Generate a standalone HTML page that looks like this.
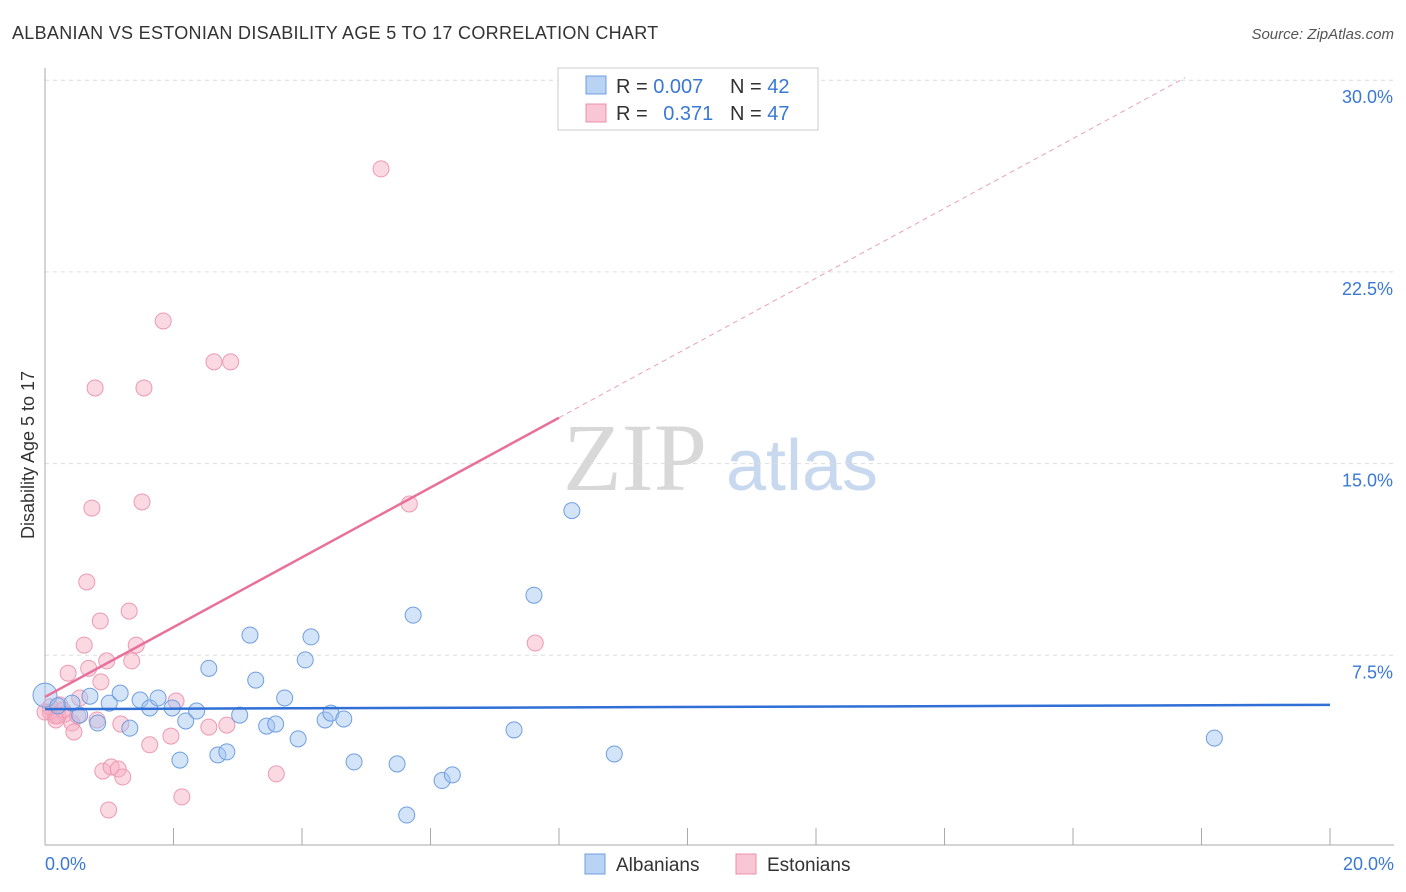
<!DOCTYPE html>
<html><head><meta charset="utf-8">
<style>
body{margin:0;background:#fff;font-family:"Liberation Sans",sans-serif;}
svg{display:block}
</style></head>
<body>
<svg id="chart" width="1406" height="892">
<text x="12" y="39" font-size="18" letter-spacing="0.3" fill="#333">ALBANIAN VS ESTONIAN DISABILITY AGE 5 TO 17 CORRELATION CHART</text>
<text x="1394" y="39" font-size="15" fill="#555" font-style="italic" text-anchor="end">Source: ZipAtlas.com</text>
<text x="34" y="455" font-size="18" fill="#333" text-anchor="middle" transform="rotate(-90 34 455)">Disability Age 5 to 17</text>
<text x="635" y="490" font-size="96" fill="#d8d8d8" font-family="Liberation Serif" text-anchor="middle">ZIP</text>
<text x="802" y="490" font-size="72" fill="#c8d8ef" text-anchor="middle">atlas</text>
<g id="grid"></g>
<g id="axes"></g>
<g id="marks"></g>
<g id="legend">
<rect x="558" y="68" width="260" height="62" fill="#fff" stroke="#ccc"/>
<rect x="586" y="76" width="20" height="18" fill="#b9d3f5" stroke="#6f9ee0"/>
<rect x="586" y="104" width="20" height="18" fill="#f9c6d5" stroke="#ec8fab"/>
<text x="616" y="93" font-size="20" fill="#333">R = <tspan fill="#3a78d4">0.007</tspan></text>
<text x="730" y="93" font-size="20" fill="#333">N = <tspan fill="#3a78d4">42</tspan></text>
<text x="616" y="120" font-size="20" fill="#333">R = <tspan fill="#3a78d4" dx="10">0.371</tspan></text>
<text x="730" y="120" font-size="20" fill="#333">N = <tspan fill="#3a78d4">47</tspan></text>
</g>
<g>
<rect x="585" y="854" width="20" height="20" fill="#b9d3f5" stroke="#6f9ee0"/>
<text x="616" y="871" font-size="19" fill="#333">Albanians</text>
<rect x="736" y="854" width="20" height="20" fill="#f9c6d5" stroke="#ec8fab"/>
<text x="767" y="871" font-size="19" fill="#333">Estonians</text>
</g>
</svg>
<script>
const yTicks=[7.5,15,22.5,30];
const yTickLabels=["7.5%","15.0%","22.5%","30.0%"];
const xTicks=[0,2,4,6,8,10,12,14,16,18,20];
const albX=[0,0.2,0.42,0.54,0.7,0.82,1.0,1.17,1.32,1.48,1.63,1.76,1.98,2.1,2.19,2.36,2.55,2.69,2.83,3.03,3.19,3.28,3.45,3.59,3.73,3.94,4.05,4.14,4.36,4.45,4.65,4.81,5.48,5.63,5.73,6.18,6.34,7.3,7.61,8.2,8.86,18.2];
const albY=[5.94,5.52,5.63,5.16,5.9,4.85,5.63,6.02,4.65,5.75,5.44,5.83,5.44,3.4,4.93,5.32,6.99,3.6,3.72,5.16,8.29,6.53,4.73,4.81,5.83,4.23,7.32,8.22,4.97,5.24,5.01,3.33,3.25,1.25,9.07,2.6,2.82,4.58,9.85,13.16,3.64,4.26];
const estX=[0.08,0.16,0.23,0.31,0.36,0.42,0.45,0.51,0.54,0.61,0.65,0.68,0.73,0.78,0.81,0.86,0.87,0.9,0.96,0.99,1.03,1.14,1.18,1.21,1.31,1.35,1.42,1.51,1.54,1.63,1.84,1.96,2.04,2.13,2.55,2.63,2.83,2.89,3.6,5.23,5.67,7.63,0.08,0.2,0.28,0,0.17];
const estY=[5.28,5.13,5.56,5.2,6.8,4.85,4.5,5.13,5.83,7.9,10.37,6.99,13.26,17.96,4.97,8.84,6.46,2.97,7.28,1.45,3.13,3.05,4.81,2.74,9.23,7.28,7.9,13.5,17.96,4.0,20.58,4.34,5.71,1.96,4.69,18.98,4.77,18.98,2.86,26.53,13.42,7.98,5.48,5.13,5.36,5.28,4.97];
const X0=45,X1=1330,Y0=847,PPU=191.7/7.5;
const sx=v=>X0+(v/20)*(X1-X0), sy=v=>Y0-v*PPU;
const NS="http://www.w3.org/2000/svg";
function mk(tag,attrs,parent){const e=document.createElementNS(NS,tag);for(const k in attrs)e.setAttribute(k,attrs[k]);parent.appendChild(e);return e;}
const grid=document.getElementById('grid'),axes=document.getElementById('axes'),marks=document.getElementById('marks');
yTicks.forEach((t,i)=>{
 const l=mk('line',{x1:X0,x2:1394,y1:sy(t),y2:sy(t),stroke:'#ddd','stroke-dasharray':'4,4'},grid);
 
 
 const tx=mk('text',{x:1393,y:sy(t)+23,'font-size':18,fill:'#3a78d4','text-anchor':'end'},axes);
 tx.textContent=yTickLabels[i];
 
 
});
const ax=mk('line',{x1:X0,x2:X0,y1:68,y2:845,stroke:'#aaa'},axes);


const bx=mk('line',{x1:X0,x2:1394,y1:845,y2:845,stroke:'#aaa'},axes);


xTicks.forEach(t=>{
 const l=mk('line',{x1:sx(t),x2:sx(t),y1:828,y2:845,stroke:'#aaa'},axes);
 
 
});
const xl0=mk('text',{x:45,y:870,'font-size':18,fill:'#3a78d4'},axes);xl0.textContent='0.0%';


const xl1=mk('text',{x:1394,y:870,'font-size':18,fill:'#3a78d4','text-anchor':'end'},axes);xl1.textContent='20.0%';


function fit(xs,ys){const n=xs.length;let mx=0,my=0;xs.forEach((v,i)=>{mx+=v;my+=ys[i];});mx/=n;my/=n;let a=0,b=0;xs.forEach((v,i)=>{a+=(v-mx)*(ys[i]-my);b+=(v-mx)*(v-mx);});const s=a/b;return [s,my-s*mx];}
estX.forEach((v,i)=>{
 const c=mk('circle',{cx:sx(v),cy:sy(estY[i]),r:8,fill:'rgba(246,170,194,0.45)',stroke:'#ec9ab3','stroke-width':1},marks);
 
 
});
albX.forEach((v,i)=>{
 const c=mk('circle',{cx:sx(v),cy:sy(albY[i]),r:i===0?12:8,fill:'rgba(160,196,240,0.45)',stroke:'#6f9ee0','stroke-width':1},marks);
 
 
});
const [as,ai]=fit(albX,albY);
const al=mk('line',{x1:sx(0),y1:sy(ai),x2:sx(20),y2:sy(ai+as*20),stroke:'#2f6fd6','stroke-width':2.5},marks);


const [es,ei]=fit(estX,estY);
const xe=8;
const el1=mk('line',{x1:sx(0),y1:sy(ei),x2:sx(xe),y2:sy(ei+es*xe),stroke:'#e8709a','stroke-width':2.5},marks);


const xEnd=Math.min(20,(30.1-ei)/es);
const el2=mk('line',{x1:sx(xe),y1:sy(ei+es*xe),x2:sx(xEnd),y2:sy(ei+es*xEnd),stroke:'#eaa0b8','stroke-width':1,'stroke-dasharray':'5,4'},marks);


</script>
</body></html>
